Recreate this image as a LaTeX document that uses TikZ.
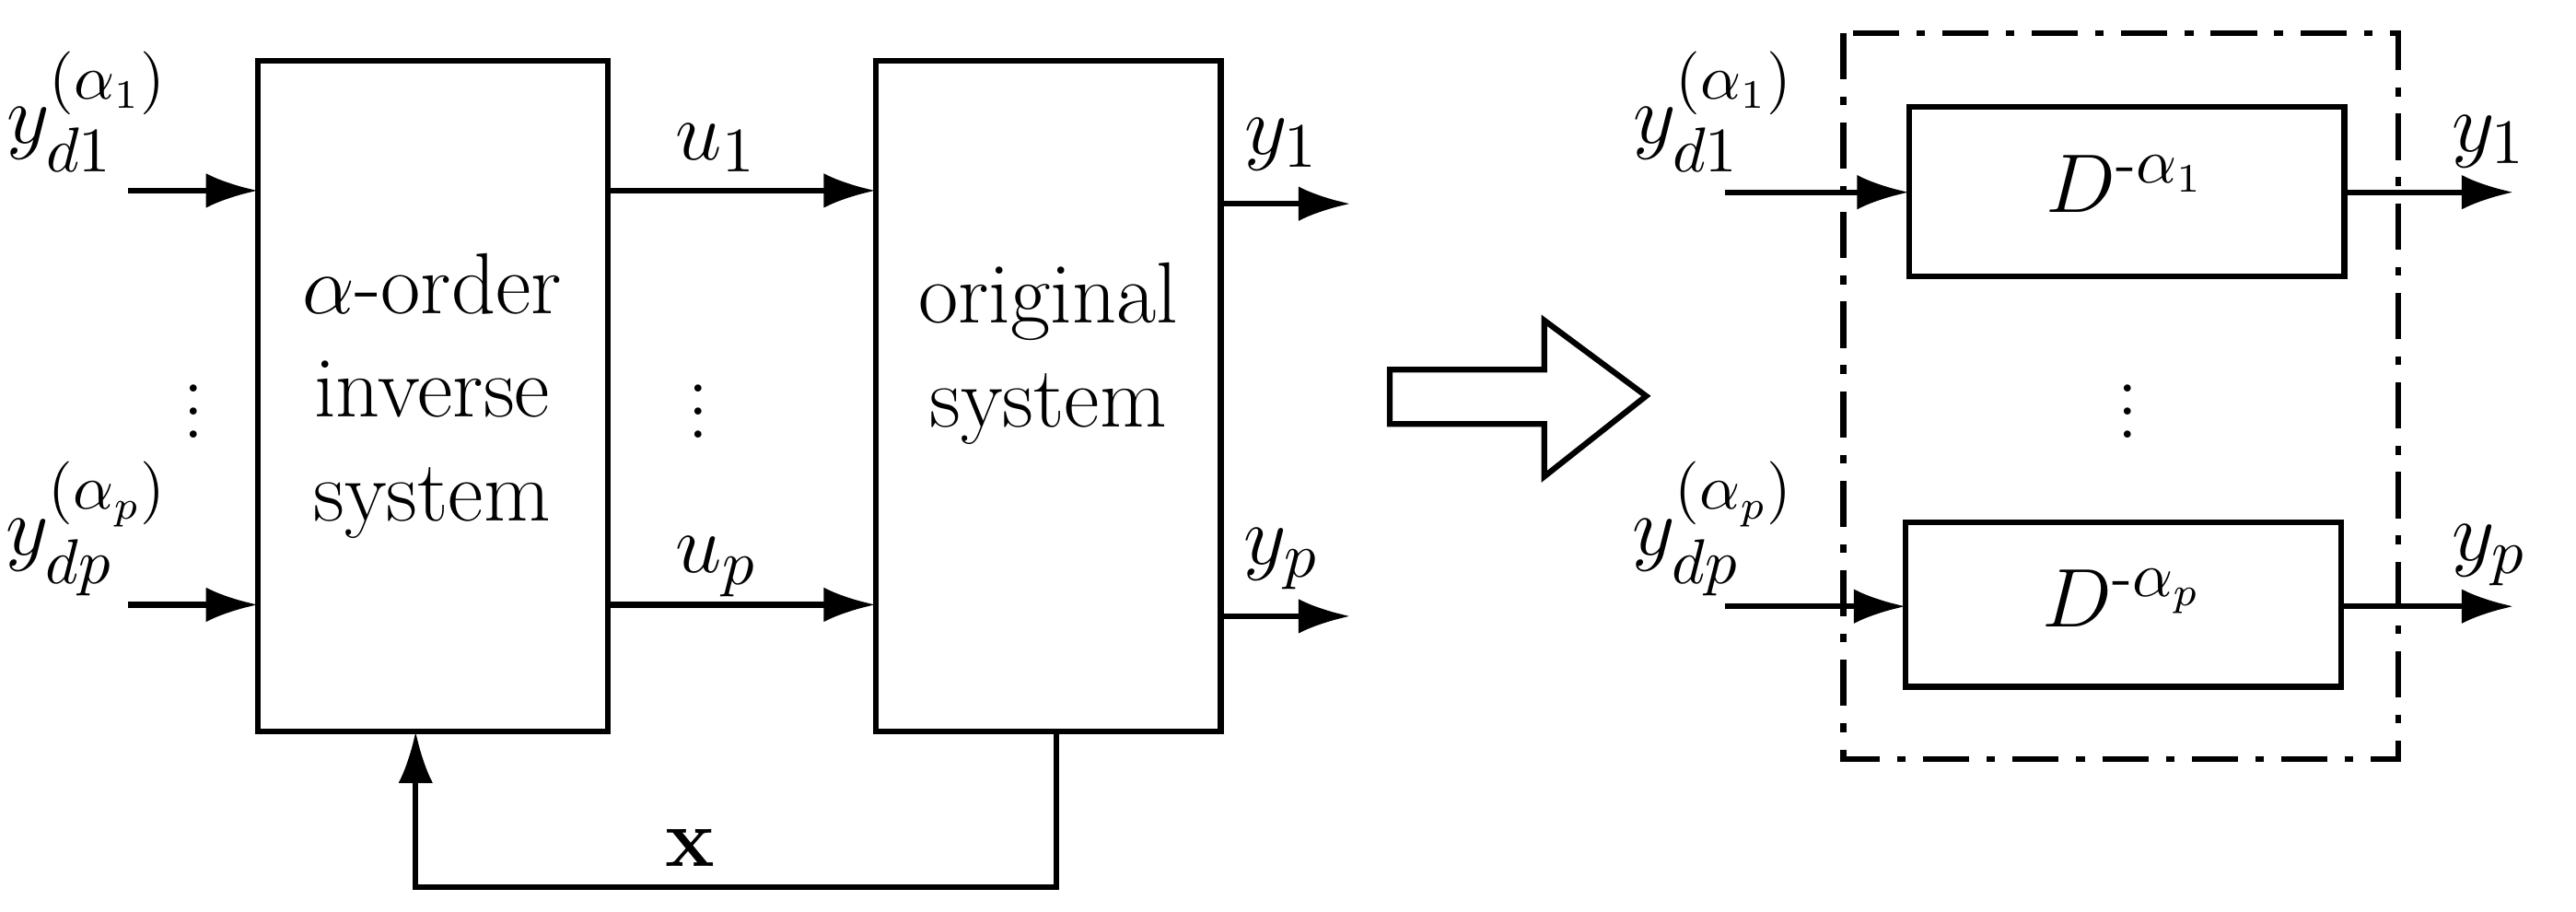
\documentclass[tikz,border=0pt]{standalone}
\usepackage{amsmath}
\usetikzlibrary{arrows.meta}
\begin{document}
\begin{tikzpicture}[x=0.01cm,y=-0.01cm,
  arr/.style={line width=1pt,-{Latex[length=9pt,width=6pt]}},
  lab/.style={font=\fontsize{15}{18}\selectfont},
  dots/.style={font=\fontsize{15}{15}\selectfont\boldmath,inner sep=0pt},
  txt/.style={font=\fontsize{15}{18}\selectfont,align=center}]
\useasboundingbox (0,0) rectangle (1568,555);
% boxes
\draw[line width=1pt] (157,37) rectangle (370,445);
\node[txt] (invt) at (263,241) {$\alpha$-order\\inverse\\system};
\draw[line width=1pt] (533,37) rectangle (743,445);
\node[txt] (orig) at (638,215) {original\\system};
% inputs
\coordinate (i1) at (78,116); \coordinate (i1e) at (157,116);
\coordinate (i2) at (78,368); \coordinate (i2e) at (157,368);
\draw[arr] (i1) -- (i1e); \draw[arr] (i2) -- (i2e);
\node[lab] (ly1) at (53,68) {$y_{d1}^{(\alpha_1)}$};
\node[lab] (ly2) at (53,322) {$y_{dp}^{(\alpha_p)}$};
\node[dots] (d1) at (118,240) {$\vdots$};
% u
\coordinate (u1s) at (370,116); \coordinate (u1e) at (533,116);
\coordinate (u2s) at (370,368); \coordinate (u2e) at (533,368);
\draw[arr] (u1s) -- (u1e); \draw[arr] (u2s) -- (u2e);
\node[lab] (lu1) at (436,90) {$u_1$};
\node[lab] (lu2) at (436,345) {$u_p$};
\node[dots] (d2) at (425,240) {$\vdots$};
% outputs
\coordinate (o1s) at (743,124); \coordinate (o1e) at (822,124);
\coordinate (o2s) at (743,375); \coordinate (o2e) at (822,375);
\draw[arr] (o1s) -- (o1e); \draw[arr] (o2s) -- (o2e);
\node[lab] (lo1) at (780,88) {$y_1$};
\node[lab] (lo2) at (780,340) {$y_p$};
% feedback
\coordinate (fb1) at (643,445); \coordinate (fb2) at (253,445);
\draw[arr] (fb1) -- (643,540) -- (253,540) -- (fb2);
\node[lab] (lx) at (420,516) {$\mathbf{x}$};
% hollow arrow
\draw[line width=1pt] (846,225) -- (940,225) -- (940,195) -- (1002,241) -- (940,290) -- (940,258) -- (846,258) -- cycle;
% right part
\draw[line width=1pt,dash pattern=on 8pt off 3pt on 1.5pt off 3pt] (1122,20) rectangle (1460,462);
\draw[line width=1pt] (1162,65) rectangle (1427,168);
\draw[line width=1pt] (1160,318) rectangle (1425,418);
\node[lab] (D1) at (1294,112) {$D^{\text{-}\alpha_1}$};
\node[lab] (D2) at (1292,364) {$D^{\text{-}\alpha_p}$};
\coordinate (r1) at (1050,117); \coordinate (r1e) at (1162,117);
\coordinate (r2) at (1050,369); \coordinate (r2e) at (1160,369);
\draw[arr] (r1) -- (r1e); \draw[arr] (r2) -- (r2e);
\coordinate (s1) at (1427,117); \coordinate (s1e) at (1530,117);
\coordinate (s2) at (1425,369); \coordinate (s2e) at (1530,369);
\draw[arr] (s1) -- (s1e); \draw[arr] (s2) -- (s2e);
\node[lab] (ry1) at (1043,68) {$y_{d1}^{(\alpha_1)}$};
\node[lab] (ry2) at (1043,322) {$y_{dp}^{(\alpha_p)}$};
\node[lab] (ro1) at (1515,86) {$y_1$};
\node[lab] (ro2) at (1515,338) {$y_p$};
\node[dots] (d3) at (1295,240) {$\vdots$};
\end{tikzpicture}
\end{document}
